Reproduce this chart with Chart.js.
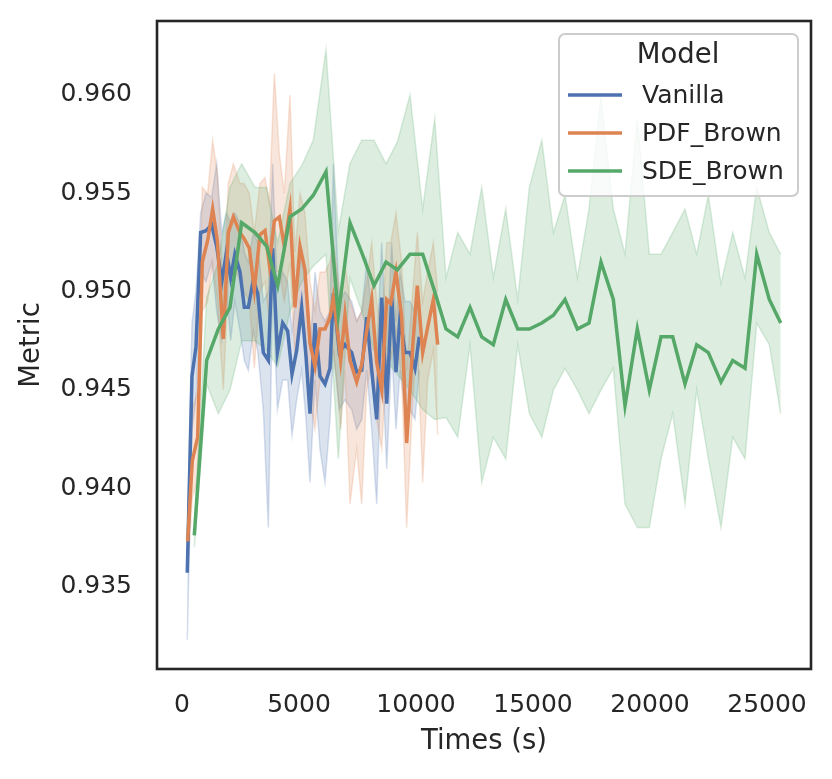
<!DOCTYPE html>
<html>
<head>
<meta charset="utf-8">
<title>Metric x Times</title>
<script src="https://cdn.jsdelivr.net/npm/chart.js@4.4.0/dist/chart.umd.min.js"></script>
<style>
  html, body { margin: 0; padding: 0; background: #ffffff; }
  #wrap { width: 832px; height: 779px; }
</style>
</head>
<body>
<div id="wrap"><canvas id="graficoMetric" width="832" height="779"></canvas></div>
<script>
// eixos
const xTicks = [0, 5000, 10000, 15000, 20000, 25000];
const yTicks = [0.935, 0.940, 0.945, 0.950, 0.955, 0.960];
const modelos = ['Vanilla', 'PDF_Brown', 'SDE_Brown'];

// Vanilla: media + banda de confianca
const vanillaTime = [226, 427, 598, 798, 1026, 1268, 1482, 1700, 1900, 2080,
  2260, 2479, 2664, 2835, 3049, 3235, 3476, 3690, 3875, 4077,
  4302, 4516, 4701, 4900, 5114, 5300, 5470, 5684, 5897, 6111,
  6325, 6467, 6723, 6966, 7252, 7466, 7680, 7894, 8107, 8321,
  8535, 8749, 8963, 9145, 9316, 9530, 9744, 9957, 10142];
const vanillaMean = [0.9357, 0.9457, 0.9472, 0.9530, 0.9531, 0.9534, 0.9523, 0.9505, 0.9520, 0.9507,
  0.9519, 0.9510, 0.9492, 0.9492, 0.9506, 0.9499, 0.9469, 0.9465, 0.9522, 0.9469,
  0.9484, 0.9480, 0.9458, 0.9470, 0.9492, 0.9467, 0.9438, 0.9484, 0.9457, 0.9453,
  0.9461, 0.9499, 0.9469, 0.9473, 0.9469, 0.9459, 0.9460, 0.9487, 0.9460, 0.9435,
  0.9497, 0.9443, 0.9497, 0.9459, 0.9487, 0.9469, 0.9469, 0.9461, 0.9477];
const vanillaLow = [0.9323, 0.9430, 0.9445, 0.9510, 0.9505, 0.9515, 0.9490, 0.9475, 0.9500, 0.9475,
  0.9495, 0.9480, 0.9465, 0.9460, 0.9480, 0.9470, 0.9440, 0.9380, 0.9500, 0.9440,
  0.9455, 0.9455, 0.9427, 0.9445, 0.9460, 0.9435, 0.9403, 0.9455, 0.9420, 0.9403,
  0.9435, 0.9470, 0.9440, 0.9445, 0.9440, 0.9430, 0.9435, 0.9460, 0.9430, 0.9392,
  0.9470, 0.9410, 0.9470, 0.9430, 0.9460, 0.9440, 0.9440, 0.9435, 0.9460];
const vanillaHigh = [0.9375, 0.9484, 0.9500, 0.9540, 0.9550, 0.9548, 0.9565, 0.9530, 0.9540, 0.9535,
  0.9540, 0.9535, 0.9520, 0.9515, 0.9530, 0.9525, 0.9495, 0.9500, 0.9565, 0.9500,
  0.9510, 0.9505, 0.9480, 0.9500, 0.9520, 0.9495, 0.9470, 0.9510, 0.9490, 0.9485,
  0.9490, 0.9565, 0.9495, 0.9500, 0.9495, 0.9485, 0.9490, 0.9515, 0.9490, 0.9470,
  0.9525, 0.9470, 0.9525, 0.9485, 0.9510, 0.9495, 0.9495, 0.9490, 0.9495];

// PDF_Brown
const pdfTime = [242, 442, 670, 869, 1097, 1311, 1510, 1767, 1980, 2194,
  2479, 2650, 2878, 3091, 3333, 3547, 3732, 3946, 4160, 4372,
  4615, 4829, 5043, 5256, 5470, 5684, 5897, 6111, 6325, 6467,
  6610, 6781, 6966, 7179, 7466, 7680, 7894, 8107, 8321, 8535,
  8749, 8920, 9145, 9388, 9601, 9859, 10056, 10286, 10500, 10741, 10927];
const pdfMean = [0.9373, 0.9414, 0.9426, 0.9515, 0.9526, 0.9542, 0.9526, 0.9476, 0.9530, 0.9538,
  0.9530, 0.9527, 0.9522, 0.9501, 0.9529, 0.9531, 0.9514, 0.9536, 0.9538, 0.9523,
  0.9542, 0.9492, 0.9523, 0.9511, 0.9474, 0.9462, 0.9481, 0.9481, 0.9487, 0.9497,
  0.9484, 0.9465, 0.9488, 0.9465, 0.9454, 0.9463, 0.9480, 0.9496, 0.9464, 0.9450,
  0.9496, 0.9494, 0.9510, 0.9487, 0.9423, 0.9472, 0.9503, 0.9469, 0.9482, 0.9496, 0.9473];
const pdfLow = [0.9360, 0.9395, 0.9405, 0.9490, 0.9495, 0.9515, 0.9495, 0.9450, 0.9505, 0.9515,
  0.9505, 0.9500, 0.9495, 0.9461, 0.9500, 0.9505, 0.9485, 0.9510, 0.9510, 0.9495,
  0.9515, 0.9465, 0.9495, 0.9480, 0.9445, 0.9430, 0.9455, 0.9455, 0.9460, 0.9470,
  0.9455, 0.9430, 0.9460, 0.9392, 0.9420, 0.9392, 0.9450, 0.9465, 0.9435, 0.9420,
  0.9465, 0.9465, 0.9480, 0.9455, 0.9380, 0.9445, 0.9475, 0.9403, 0.9455, 0.9470, 0.9427];
const pdfHigh = [0.9390, 0.9440, 0.9450, 0.9553, 0.9550, 0.9577, 0.9560, 0.9500, 0.9555, 0.9565,
  0.9555, 0.9555, 0.9550, 0.9530, 0.9555, 0.9558, 0.9545, 0.9611, 0.9570, 0.9550,
  0.9600, 0.9520, 0.9550, 0.9540, 0.9505, 0.9490, 0.9510, 0.9510, 0.9515, 0.9525,
  0.9512, 0.9495, 0.9515, 0.9495, 0.9485, 0.9490, 0.9505, 0.9525, 0.9495, 0.9480,
  0.9525, 0.9525, 0.9540, 0.9515, 0.9460, 0.9500, 0.9530, 0.9495, 0.9510, 0.9525, 0.9500];

// SDE_Brown
const sdeTime = [526, 1055, 1553, 2051, 2550, 3120, 3618, 4088, 4615, 5114,
  5612, 6154, 6680, 7179, 7680, 8205, 8718, 9201, 9744, 10286,
  10800, 11282, 11782, 12308, 12808, 13304, 13834, 14346, 14846, 15376,
  15872, 16368, 16897, 17393, 17906, 18432, 18932, 19457, 19970, 20470,
  20970, 21496, 21996, 22494, 23034, 23534, 24060, 24560, 25098, 25585];
const sdeMean = [0.9376, 0.9465, 0.9481, 0.9492, 0.9535, 0.9530, 0.9523, 0.9503, 0.9538, 0.9542,
  0.9549, 0.9561, 0.9488, 0.9535, 0.9520, 0.9503, 0.9515, 0.9511, 0.9519, 0.9519,
  0.9500, 0.9481, 0.9477, 0.9492, 0.9477, 0.9473, 0.9496, 0.9481, 0.9481, 0.9484,
  0.9488, 0.9496, 0.9481, 0.9484, 0.9515, 0.9496, 0.9442, 0.9481, 0.9450, 0.9477,
  0.9477, 0.9453, 0.9473, 0.9469, 0.9454, 0.9465, 0.9461, 0.9519, 0.9496, 0.9484];
const sdeLow = [0.9370, 0.9453, 0.9438, 0.9450, 0.9475, 0.9475, 0.9470, 0.9462, 0.9490, 0.9505,
  0.9513, 0.9519, 0.9415, 0.9507, 0.9490, 0.9470, 0.9465, 0.9458, 0.9450, 0.9440,
  0.9435, 0.9436, 0.9426, 0.9473, 0.9403, 0.9426, 0.9415, 0.9473, 0.9438, 0.9426,
  0.9450, 0.9461, 0.9450, 0.9438, 0.9450, 0.9461, 0.9392, 0.9380, 0.9380, 0.9415,
  0.9438, 0.9392, 0.9450, 0.9415, 0.9380, 0.9426, 0.9415, 0.9484, 0.9473, 0.9438];
const sdeHigh = [0.9382, 0.9497, 0.9515, 0.9553, 0.9565, 0.9553, 0.9553, 0.9525, 0.9555, 0.9564,
  0.9577, 0.9623, 0.9531, 0.9565, 0.9577, 0.9577, 0.9565, 0.9576, 0.9600, 0.9542,
  0.9588, 0.9507, 0.9530, 0.9519, 0.9553, 0.9507, 0.9542, 0.9496, 0.9553, 0.9577,
  0.9530, 0.9549, 0.9507, 0.9542, 0.9599, 0.9542, 0.9519, 0.9588, 0.9519, 0.9519,
  0.9530, 0.9542, 0.9519, 0.9549, 0.9504, 0.9530, 0.9507, 0.9553, 0.9530, 0.9519];

// cores (seaborn deep)
const cores = {
  Vanilla: [76, 114, 176],
  PDF_Brown: [221, 132, 82],
  SDE_Brown: [85, 168, 104]
};
const texto = '#262626';
const fonte = "'DejaVu Sans', sans-serif";

function rgba(c, a) { return 'rgba(' + c[0] + ',' + c[1] + ',' + c[2] + ',' + a + ')'; }
function pontos(xs, ys) { return xs.map(function (x, i) { return { x: x, y: ys[i] }; }); }

// banda (low + high com fill entre elas) e linha media
function serie(nome, xs, media, low, high, ordem) {
  const c = cores[nome];
  return [
    { label: nome + '_low', data: pontos(xs, low), borderColor: rgba(c, 0.22), borderWidth: 1.5,
      pointRadius: 0, fill: false, order: 3 + ordem },
    { label: nome + '_high', data: pontos(xs, high), borderColor: rgba(c, 0.22), borderWidth: 1.5,
      backgroundColor: rgba(c, 0.2), pointRadius: 0, fill: '-1', order: 3 + ordem },
    { label: nome, data: pontos(xs, media), borderColor: rgba(c, 1), borderWidth: 3.5,
      pointRadius: 0, fill: false, order: ordem }
  ];
}

const datasets = []
  .concat(serie('Vanilla', vanillaTime, vanillaMean, vanillaLow, vanillaHigh, 2))
  .concat(serie('PDF_Brown', pdfTime, pdfMean, pdfLow, pdfHigh, 1))
  .concat(serie('SDE_Brown', sdeTime, sdeMean, sdeLow, sdeHigh, 0));

// moldura (4 lados) e legenda no canto superior direito
const molduraLegenda = {
  id: 'molduraLegenda',
  afterDatasetsDraw(chart) {
    const a = chart.chartArea;
    const ctx = chart.ctx;
    ctx.save();
    ctx.strokeStyle = texto;
    ctx.lineWidth = 2.6;
    ctx.strokeRect(a.left, a.top, a.right - a.left, a.bottom - a.top);
    ctx.restore();
  },
  afterDraw(chart) {
    const a = chart.chartArea;
    const ctx = chart.ctx;
    const bw = 239, bh = 162;
    const bx = a.right - 13 - bw, by = a.top + 13;
    ctx.save();
    ctx.beginPath();
    ctx.roundRect(bx, by, bw, bh, 6);
    ctx.fillStyle = 'rgba(255,255,255,0.8)';
    ctx.fill();
    ctx.strokeStyle = '#cccccc';
    ctx.lineWidth = 2;
    ctx.stroke();

    ctx.fillStyle = texto;
    ctx.textBaseline = 'middle';
    ctx.textAlign = 'center';
    ctx.font = '27.5px ' + fonte;
    ctx.fillText('Model', bx + 119, by + 22);

    ctx.textAlign = 'left';
    ctx.font = '25px ' + fonte;
    modelos.forEach(function (nome, i) {
      const y = by + 61 + i * 38;
      ctx.strokeStyle = rgba(cores[nome], 1);
      ctx.lineWidth = 3.5;
      ctx.beginPath();
      ctx.moveTo(bx + 9, y);
      ctx.lineTo(bx + 63, y);
      ctx.stroke();
      ctx.fillText(nome, bx + 83, y + 1);
    });
    ctx.restore();
  }
};

// tira o padding automatico das escalas (rotulos das pontas)
function semPadding(s) {
  s.paddingTop = 0; s.paddingBottom = 0; s.paddingLeft = 0; s.paddingRight = 0;
}

const ctx = document.getElementById('graficoMetric');
new Chart(ctx, {
  type: 'line',
  data: { datasets: datasets },
  options: {
    responsive: false,
    devicePixelRatio: 1,
    animation: false,
    layout: { padding: { top: 21, right: 21, left: 0, bottom: 0 } },
    plugins: { legend: { display: false }, tooltip: { enabled: false } },
    elements: { line: { tension: 0 } },
    scales: {
      x: {
        type: 'linear',
        min: -1068,
        max: 26880,
        grid: { display: false, drawTicks: false },
        border: { display: false },
        afterFit: function (s) { s.height = 110; semPadding(s); },
        afterBuildTicks: function (s) { s.ticks = xTicks.map(function (v) { return { value: v }; }); },
        ticks: {
          color: texto,
          font: { family: fonte, size: 25 },
          padding: 21,
          maxRotation: 0,
          callback: function (v) { return String(v); }
        },
        title: {
          display: true, text: 'Times (s)', color: texto,
          font: { family: fonte, size: 27.5 },
          padding: { top: 4, bottom: 21 }
        }
      },
      y: {
        type: 'linear',
        min: 0.93081,
        max: 0.96376,
        grid: { display: false, drawTicks: false },
        border: { display: false },
        afterFit: function (s) { s.width = 157; semPadding(s); },
        afterBuildTicks: function (s) { s.ticks = yTicks.map(function (v) { return { value: v }; }); },
        ticks: {
          color: texto,
          font: { family: fonte, size: 25 },
          padding: 25,
          callback: function (v) { return v.toFixed(3); }
        },
        title: {
          display: true, text: 'Metric', color: texto,
          font: { family: fonte, size: 27.5 },
          padding: { top: 15, bottom: 4 }
        }
      }
    }
  },
  plugins: [molduraLegenda]
});
</script>
</body>
</html>
